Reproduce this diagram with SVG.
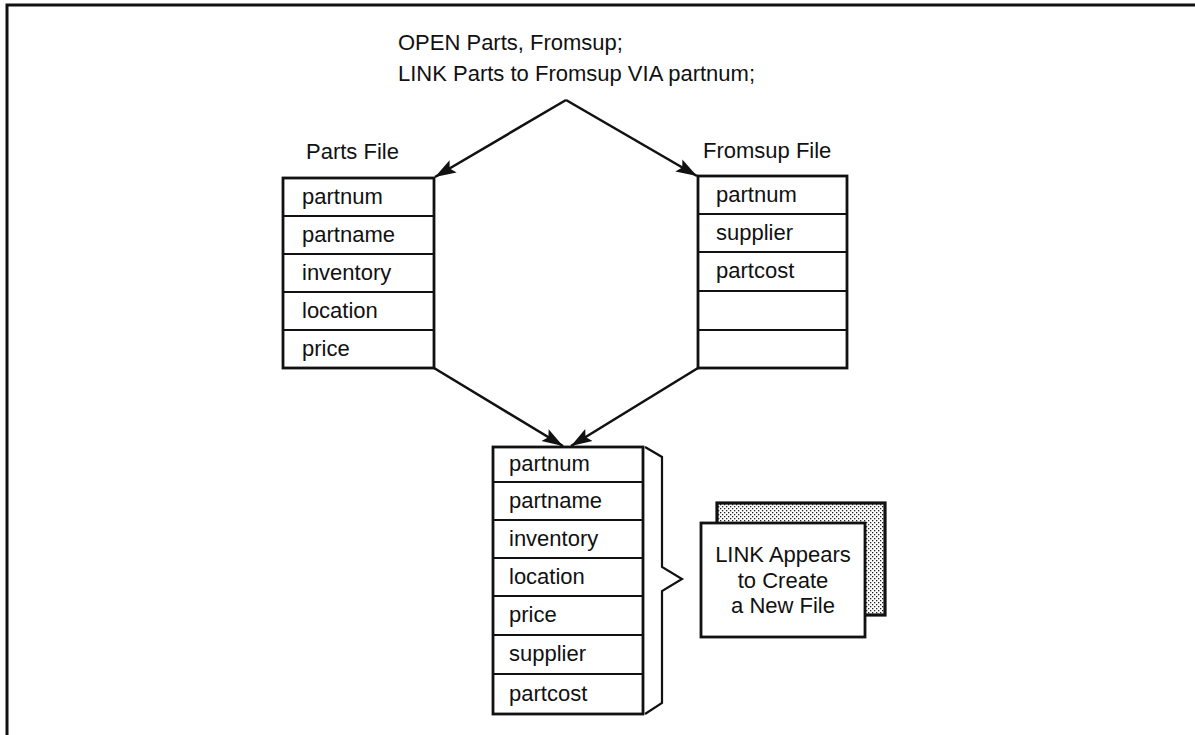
<svg xmlns="http://www.w3.org/2000/svg" width="1195" height="735" viewBox="0 0 1195 735">
  <style>
    text { font-family: "Liberation Sans", Arial, sans-serif; font-size: 22px; fill: #111; }
    .frame { fill: none; stroke: #111; stroke-width: 3; }
    .box { fill: #fff; stroke: #111; stroke-width: 2.8; }
    .div { stroke: #111; stroke-width: 2.2; }
    .conn { fill: none; stroke: #111; stroke-width: 2.6; }
    .brace { fill: none; stroke: #111; stroke-width: 2.2; stroke-linejoin: miter; }
    .mid { text-anchor: middle; }
  </style>
  <defs>
    <marker id="arrow" markerUnits="userSpaceOnUse" markerWidth="24" markerHeight="16" refX="21" refY="8" orient="auto">
      <path d="M0,1 L21,8 L0,15 L4,8 z" fill="#111"/>
    </marker>
    <pattern id="stipple" width="4" height="4" patternUnits="userSpaceOnUse">
      <rect width="4" height="4" fill="#fff"/>
      <rect x="0" y="0" width="1.3" height="1.3" fill="#222"/>
      <rect x="2" y="2" width="1.3" height="1.3" fill="#222"/>
    </pattern>
  </defs>

  <!-- outer frame -->
  <path class="frame" d="M7,735 L7,5 L1195,5"/>

  <!-- commands -->
  <g id="commands">
    <text x="398" y="50">OPEN Parts, Fromsup;</text>
    <text x="398" y="81">LINK Parts to Fromsup VIA partnum;</text>
  </g>

  <!-- Parts file -->
  <g id="parts-file">
    <text x="306" y="159">Parts File</text>
    <rect class="box" x="283" y="178" width="151" height="190"/>
    <line class="div" x1="283" y1="216" x2="434" y2="216"/>
    <line class="div" x1="283" y1="254" x2="434" y2="254"/>
    <line class="div" x1="283" y1="292" x2="434" y2="292"/>
    <line class="div" x1="283" y1="330" x2="434" y2="330"/>
    <text x="302" y="204">partnum</text>
    <text x="302" y="242">partname</text>
    <text x="302" y="280">inventory</text>
    <text x="302" y="318">location</text>
    <text x="302" y="356">price</text>
  </g>

  <!-- Fromsup file -->
  <g id="fromsup-file">
    <text x="703" y="158">Fromsup File</text>
    <rect class="box" x="698" y="176" width="149" height="192"/>
    <line class="div" x1="698" y1="214" x2="847" y2="214"/>
    <line class="div" x1="698" y1="252" x2="847" y2="252"/>
    <line class="div" x1="698" y1="291" x2="847" y2="291"/>
    <line class="div" x1="698" y1="330" x2="847" y2="330"/>
    <text x="716" y="202">partnum</text>
    <text x="716" y="240">supplier</text>
    <text x="716" y="278">partcost</text>
  </g>

  <!-- linked view -->
  <g id="linked-file">
    <rect class="box" x="493" y="447" width="150" height="267"/>
    <line class="div" x1="493" y1="482" x2="643" y2="482"/>
    <line class="div" x1="493" y1="520" x2="643" y2="520"/>
    <line class="div" x1="493" y1="558" x2="643" y2="558"/>
    <line class="div" x1="493" y1="596" x2="643" y2="596"/>
    <line class="div" x1="493" y1="635" x2="643" y2="635"/>
    <line class="div" x1="493" y1="674" x2="643" y2="674"/>
    <text x="509" y="471">partnum</text>
    <text x="509" y="508">partname</text>
    <text x="509" y="546">inventory</text>
    <text x="509" y="584">location</text>
    <text x="509" y="622">price</text>
    <text x="509" y="661">supplier</text>
    <text x="509" y="701">partcost</text>
  </g>

  <!-- brace -->
  <g id="brace">
    <path class="brace" d="M645,447 L662,457 L662,567 L682,579 L662,591 L662,703 L645,714"/>
  </g>

  <!-- note -->
  <g id="note">
    <rect x="717" y="503" width="168" height="112" fill="url(#stipple)" stroke="#111" stroke-width="3.2"/>
    <rect class="box" x="701" y="523" width="164" height="114"/>
    <text class="mid" x="783" y="562">LINK Appears</text>
    <text class="mid" x="783" y="588">to Create</text>
    <text class="mid" x="783" y="613">a New File</text>
  </g>

  <!-- connectors -->
  <g id="connectors">
    <line class="conn" x1="566" y1="100" x2="435" y2="177" marker-end="url(#arrow)"/>
    <line class="conn" x1="566" y1="100" x2="697" y2="176" marker-end="url(#arrow)"/>
    <line class="conn" x1="434" y1="368" x2="563" y2="446" marker-end="url(#arrow)"/>
    <line class="conn" x1="698" y1="368" x2="571" y2="446" marker-end="url(#arrow)"/>
  </g>
</svg>
